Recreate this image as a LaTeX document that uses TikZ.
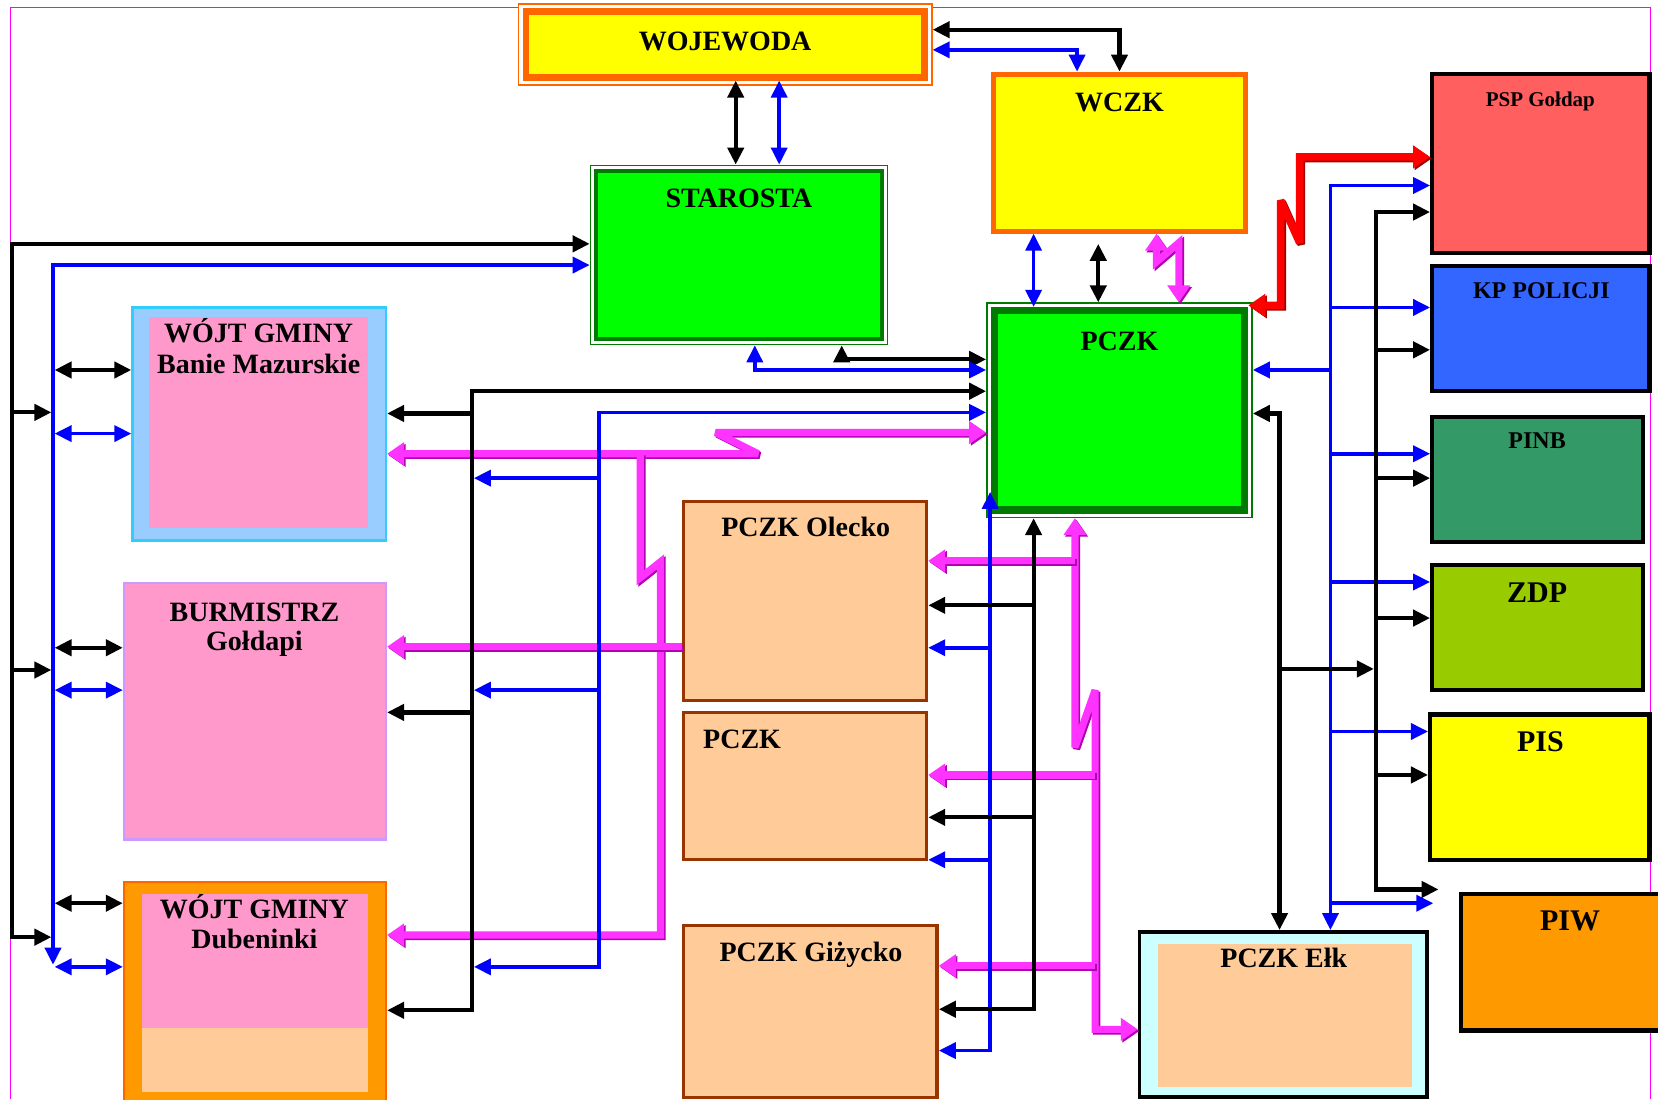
\documentclass[tikz,border=0pt]{standalone}
\usepackage{fontspec}
\setmainfont{Liberation Serif}
\usetikzlibrary{arrows.meta,fit,calc}
\definecolor{cyl}{HTML}{FFFF00}
\definecolor{corg}{HTML}{FF6600}
\definecolor{cgr}{HTML}{00FF00}
\definecolor{cdg}{HTML}{007A00}
\definecolor{cpsp}{HTML}{FF5F5F}
\definecolor{ckp}{HTML}{3366FF}
\definecolor{cpinb}{HTML}{339966}
\definecolor{czdp}{HTML}{99CC00}
\definecolor{cpiw}{HTML}{FF9900}
\definecolor{clb}{HTML}{99CCFF}
\definecolor{ccy}{HTML}{33CCFF}
\definecolor{cpink}{HTML}{FF99CC}
\definecolor{clav}{HTML}{CC99FF}
\definecolor{cpeach}{HTML}{FFCC99}
\definecolor{cbrown}{HTML}{993300}
\definecolor{clc}{HTML}{CCFFFF}
\definecolor{cblue}{HTML}{0000FF}
\definecolor{cmg}{HTML}{FF33FF}
\definecolor{cmgd}{HTML}{B000B0}
\definecolor{cfr}{HTML}{FF00FF}
\definecolor{cred}{HTML}{FF0000}
\definecolor{credd}{HTML}{A00000}
\tikzset{
  bx/.style={rectangle, inner sep=0pt},
  ttl/.style={font=\fontsize{14}{16}\selectfont\bfseries, anchor=base, inner sep=0pt},
  bk/.style={draw=black, line width=2.1pt, >={Triangle[length=8.5pt,width=8pt]}},
  bl/.style={draw=cblue, line width=1.8pt, >={Triangle[length=8.5pt,width=8pt]}},
  mgd/.style={draw=cmgd, line width=3.6pt, line join=miter, miter limit=4, >={Triangle[length=8.5pt,width=11pt]}, transform canvas={shift={(0.8pt,-0.8pt)}}},
  mgf/.style={draw=cmg, line width=3.6pt, line join=miter, miter limit=4, >={Triangle[length=8.5pt,width=11pt]}},
  rdd/.style={draw=credd, line width=3.8pt, line join=miter, miter limit=4, >={Triangle[length=8.5pt,width=11pt]}, transform canvas={shift={(0.8pt,-0.8pt)}}},
  rdf/.style={draw=cred, line width=3.8pt, line join=miter, miter limit=4, >={Triangle[length=8.5pt,width=11pt]}},
  rbox/.style={bx, draw=black, line width=2.1pt},
  pbox/.style={bx, draw=cbrown, line width=1.7pt, fill=cpeach}
}
\newcommand\mgline[2]{\draw[mgd,#1] #2; \draw[mgf,#1] #2;}
\newcommand\rdline[2]{\draw[rdd,#1] #2; \draw[rdf,#1] #2;}
\begin{document}
\begin{tikzpicture}[x=0.53pt,y=-0.53pt]
\useasboundingbox (0,0) rectangle (1564,1037);
% frame
\draw[cfr, line width=0.6pt] (10,1037) -- (10,7) -- (1557,7) -- (1557,1037);
% boxes
\node[bx, fit={(489,4) (879,80)}, draw=corg, line width=0.8pt, fill=white] (woj) {};
\node[bx, fit={(496,11) (872,73)}, draw=corg, line width=3.2pt, fill=cyl] (wojin) {};
\node[bx, fit={(937,70) (1175,218)}, draw=corg, line width=2.6pt, fill=cyl] (wczk) {};
\node[bx, fit={(557,156) (837,325)}, draw=cdg, line width=0.8pt, fill=white] (star) {};
\node[bx, fit={(562,161) (832,320)}, draw=cdg, line width=2pt, fill=cgr] (starin) {};
\node[bx, fit={(931,286) (1181,488)}, draw=cdg, line width=0.8pt, fill=white] (pc) {};
\node[bx, fit={(938,293) (1174,481)}, draw=cdg, line width=3.8pt, fill=cgr] (pcin) {};
\node[rbox, fit={(1351,70) (1556,239)}, fill=cpsp] (psp) {};
\node[rbox, fit={(1351,251) (1556,369)}, fill=ckp] (kp) {};
\node[rbox, fit={(1351,393) (1550,511)}, fill=cpinb] (pinb) {};
\node[rbox, fit={(1351,533) (1550,651)}, fill=czdp] (zdp) {};
\node[rbox, fit={(1349,674) (1556,811)}, fill=cyl] (pis) {};
\node[rbox, fit={(1378,843) (1590,972)}, fill=cpiw] (piw) {};
\node[bx, fit={(125,290) (364,510)}, draw=ccy, line width=1.2pt, fill=clb] (banie) {};
\node[bx, fit={(141,299) (347,498)}, fill=cpink] (baniein) {};
\node[bx, fit={(117,550) (364,792)}, draw=clav, line width=1.2pt, fill=cpink] (burm) {};
\node[bx, fit={(117,832) (364,1050)}, draw=corg, line width=1.2pt, fill=cpiw] (dub) {};
\node[bx, fit={(134,843) (347,970)}, fill=cpink] (dubin) {};
\node[bx, fit={(134,970) (347,1030)}, fill=cpeach] (dubin2) {};
\node[pbox, fit={(645,473) (874,661)}] (olecko) {};
\node[pbox, fit={(645,672) (874,811)}] (pczkm) {};
\node[pbox, fit={(645,873) (884,1035)}] (giz) {};
\node[bx, fit={(1075,879) (1346,1035)}, draw=black, line width=1.8pt, fill=clc] (elk) {};
\node[bx, fit={(1092,890) (1332,1025)}, fill=cpeach] (elkin) {};
% free-end coordinates
\coordinate (wczkK) at (1036,230);
\coordinate (piwB) at (1352,852);
\coordinate (piwK) at (1357,839);
\coordinate (busK) at (1296,631);
\coordinate (pcBl) at (934,464);
% magenta and red connectors
\mgline{<->}{(wczk.south -| 1091,0) -- (1091,247) -- (1112,229) -- (pc.north -| 1112,0)}
\mgline{<->}{(banie.east |- 0,428) -- (715,428) -- (675,408) -- (pc.west |- 0,408)}
\mgline{->}{(604,428) -- (604,545) -- (623,530) -- (623,882) -- (dub.east |- 0,882)}
\mgline{->}{(olecko.west |- 0,610) -- (burm.east |- 0,610)}
\mgline{<->}{(pc.south -| 1014,0) -- (1014,705) -- (1033,651) -- (1033,971) -- (elk.west |- 0,971)}
\mgline{->}{(1014,529) -- (olecko.east |- 0,529)}
\mgline{->}{(1033,731) -- (pczkm.east |- 0,731)}
\mgline{->}{(1033,911) -- (giz.east |- 0,911)}
\rdline{<->}{(pcin.east |- 0,288) -- (1208,288) -- (1208,189) -- (1226,229) -- (1226,148) -- (psp.west |- 0,148)}
% top
\draw[bk,<->] (woj.east |- 0,28) -| (wczk.north -| 1056,0);
\draw[bl,<->] (woj.east |- 0,47) -| (wczk.north -| 1016,0);
\draw[bk,<->] (wojin.south -| 694,0) -- (star.north -| 694,0);
\draw[bl,<->] (wojin.south -| 735,0) -- (star.north -| 735,0);
\draw[bl,<->] (wczk.south -| 975,0) -- (pcin.north -| 975,0);
\draw[bk,<->] (wczkK) -- (pc.north -| 1036,0);
% right buses
\draw[bl,<->] (psp.west |- 0,175) -- (1255,175) -- (elk.north -| 1255,0);
\draw[bl,->] (1255,290) -- (kp.west |- 0,290);
\draw[bl,->] (1255,428) -- (pinb.west |- 0,428);
\draw[bl,->] (1255,549) -- (zdp.west |- 0,549);
\draw[bl,->] (1255,690) -- (pis.west |- 0,690);
\draw[bl,->] (1255,852) -- (piwB);
\draw[bl,->] (1255,349) -- (pc.east |- 0,349);
\draw[bk,<->] (psp.west |- 0,200) -- (1298,200) -- (1298,839) -- (piwK);
\draw[bk,->] (1298,330) -- (kp.west |- 0,330);
\draw[bk,->] (1298,451) -- (pinb.west |- 0,451);
\draw[bk,->] (1298,583) -- (zdp.west |- 0,583);
\draw[bk,->] (1298,731) -- (pis.west |- 0,731);
\draw[bk,<->] (pc.east |- 0,390) -- (1207,390) -- (elk.north -| 1207,0);
\draw[bk,->] (1207,631) -- (busK);
% left buses
\draw[bk,<->] (star.west |- 0,230) -- (11,230) -- (11,884) -- (48.5,884);
\draw[bk,->] (11,389) -- (48.5,389);
\draw[bk,->] (11,632) -- (48.5,632);
\draw[bl,<->] (star.west |- 0,250) -- (50,250) -- (50,910);
\draw[bk,<->] (51.5,349) -- (banie.west |- 0,349);
\draw[bl,<->] (51.5,409) -- (banie.west |- 0,409);
\draw[bk,<->] (51.5,611) -- (burm.west |- 0,611);
\draw[bl,<->] (51.5,651) -- (burm.west |- 0,651);
\draw[bk,<->] (51.5,852) -- (dub.west |- 0,852);
\draw[bl,<->] (51.5,912) -- (dub.west |- 0,912);
% middle
\draw[bk,<->] (star.south -| 794,0) |- (pc.west |- 0,339);
\draw[bl,<->] (star.south -| 712,0) |- (pc.west |- 0,349);
\draw[bk,<->] (pc.west |- 0,369) -- (445,369) -- (445,953) -- (dub.east |- 0,953);
\draw[bk,->] (445,390) -- (banie.east |- 0,390);
\draw[bk,->] (445,672) -- (burm.east |- 0,672);
\draw[bl,<->] (pc.west |- 0,389) -- (565,389) -- (565,912) -- (447,912);
\draw[bl,->] (565,451) -- (447,451);
\draw[bl,->] (565,651) -- (447,651);
\draw[bl,<->] (pcBl) -- (934,991) -- (giz.east |- 0,991);
\draw[bl,->] (934,611) -- (olecko.east |- 0,611);
\draw[bl,->] (934,811) -- (pczkm.east |- 0,811);
\draw[bk,<->] (pc.south -| 975,0) -- (975,952) -- (giz.east |- 0,952);
\draw[bk,->] (975,571) -- (olecko.east |- 0,571);
\draw[bk,->] (975,771) -- (pczkm.east |- 0,771);
% titles
\node[ttl] (tWoj) at (684,48) {WOJEWODA};
\node[ttl] (tWczk) at (1056,105) {WCZK};
\node[ttl] (tStar) at (697,196) {STAROSTA};
\node[ttl] (tPc) at (1056,331) {PCZK};
\node[ttl, font=\fontsize{10.5}{12}\selectfont\bfseries] (tPsp) at (1453,100) {PSP Gołdap};
\node[ttl, font=\fontsize{12}{14}\selectfont\bfseries] (tKp) at (1454,282) {KP POLICJI};
\node[ttl, font=\fontsize{12}{14}\selectfont\bfseries] (tPinb) at (1450,423) {PINB};
\node[ttl, font=\fontsize{15}{17}\selectfont\bfseries] (tZdp) at (1450,568) {ZDP};
\node[ttl, font=\fontsize{15}{17}\selectfont\bfseries] (tPis) at (1453,709) {PIS};
\node[ttl, font=\fontsize{15}{17}\selectfont\bfseries] (tPiw) at (1481,878) {PIW};
\node[ttl] (tBan1) at (244,323) {WÓJT GMINY};
\node[ttl] (tBan2) at (244,352) {Banie Mazurskie};
\node[ttl] (tBur1) at (240,586) {BURMISTRZ};
\node[ttl] (tBur2) at (240,614) {Gołdapi};
\node[ttl] (tDub1) at (240,866) {WÓJT GMINY};
\node[ttl] (tDub2) at (240,895) {Dubeninki};
\node[ttl] (tOle) at (760,506) {PCZK Olecko};
\node[ttl] (tPcm) at (700,706) {PCZK};
\node[ttl] (tGiz) at (765,907) {PCZK Giżycko};
\node[ttl] (tElk) at (1211,913) {PCZK Ełk};
\end{tikzpicture}
\end{document}
